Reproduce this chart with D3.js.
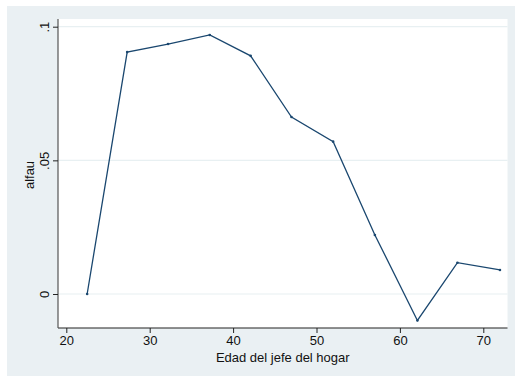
<!DOCTYPE html>
<html><head><meta charset="utf-8">
<script src="https://cdn.jsdelivr.net/npm/d3@7"></script>
<style>body{margin:0;background:#fff;}svg{display:block;font-family:"Liberation Sans",Arial,sans-serif;}</style>
</head><body>
<script>
const ages = [22.5, 27.3, 32.2, 37.2, 42.1, 47.0, 52.0, 57.0, 62.1, 66.9, 72.0];
const alfau = [0.0, 0.0905, 0.0935, 0.0969, 0.0891, 0.0662, 0.057, 0.0221, -0.0099, 0.0117, 0.009];
const xTicks = [20, 30, 40, 50, 60, 70];
const yTicks = [0, 0.05, 0.1];
const yTickLabels = ["0", ".05", ".1"];
const xTitle = "Edad del jefe del hogar";
const yTitle = "alfau";

const W = 515, H = 376;
const svg = d3.select("body").append("svg").attr("width", W).attr("height", H);
svg.append("rect").attr("x", 7).attr("y", 6).attr("width", W - 7).attr("height", H - 6).attr("fill", "#eaf0f3");
const pl = 58, pr = 507.5, pt = 19, pb = 328;
svg.append("rect").attr("x", pl).attr("y", pt).attr("width", pr - pl).attr("height", pb - pt).attr("fill", "#fff");

const x = d3.scaleLinear().domain([20, 70]).range([66.3, 483.3]);
const y = d3.scaleLinear().domain([0, 0.1]).range([294, 26.7]);

// gridlines
svg.append("g").selectAll("line").data(yTicks).join("line")
  .attr("x1", pl).attr("x2", pr).attr("y1", d => y(d)).attr("y2", d => y(d))
  .attr("stroke", "#e8f0f2").attr("stroke-width", 1.2);

// axes
const xAxis = d3.axisBottom(x).tickValues(xTicks).tickSize(5).tickSizeOuter(0).tickFormat(d3.format("d"));
const gx = svg.append("g").attr("transform", `translate(0,${pb})`).call(xAxis);
gx.select(".domain").attr("d", `M${pl},0H${pr}`).attr("stroke", "#222").attr("stroke-width", 1.2);
gx.selectAll(".tick line").attr("stroke", "#222");
gx.selectAll(".tick text").attr("font-size", 13).attr("fill", "#111").attr("font-family", "Liberation Sans, Arial, sans-serif").attr("y", 7).attr("dy", "0.8em");

const yAxis = d3.axisLeft(y).tickValues(yTicks).tickSize(5).tickSizeOuter(0).tickFormat((d, i) => yTickLabels[i]);
const gy = svg.append("g").attr("transform", `translate(${pl},0)`).call(yAxis);
gy.select(".domain").attr("d", `M0,${pt}V${pb}`).attr("stroke", "#555").attr("stroke-width", 1.2);
gy.selectAll(".tick line").attr("stroke", "#222");
gy.selectAll(".tick text").attr("font-size", 13).attr("fill", "#111").attr("font-family", "Liberation Sans, Arial, sans-serif")
  .attr("text-anchor", "middle").attr("x", 0).attr("dy", 0)
  .attr("transform", "translate(-9,0) rotate(-90)");

// line
const line = d3.line().x((d, i) => x(ages[i])).y(d => y(d));
svg.append("path").datum(alfau).attr("d", line).attr("fill", "none").attr("stroke", "#1a476f").attr("stroke-width", 1.3).attr("stroke-linejoin", "miter");
svg.append("g").selectAll("circle").data(alfau).join("circle")
  .attr("cx", (d, i) => x(ages[i])).attr("cy", d => y(d)).attr("r", 1.3).attr("fill", "#1a476f");

// titles
svg.append("text").attr("x", (pl + pr) / 2).attr("y", 361.5).attr("text-anchor", "middle").attr("font-size", 13).attr("fill", "#111").text(xTitle);
svg.append("text").attr("transform", `translate(34,175) rotate(-90)`).attr("text-anchor", "middle").attr("font-size", 13).attr("fill", "#111").text(yTitle);
</script>
</body></html>
